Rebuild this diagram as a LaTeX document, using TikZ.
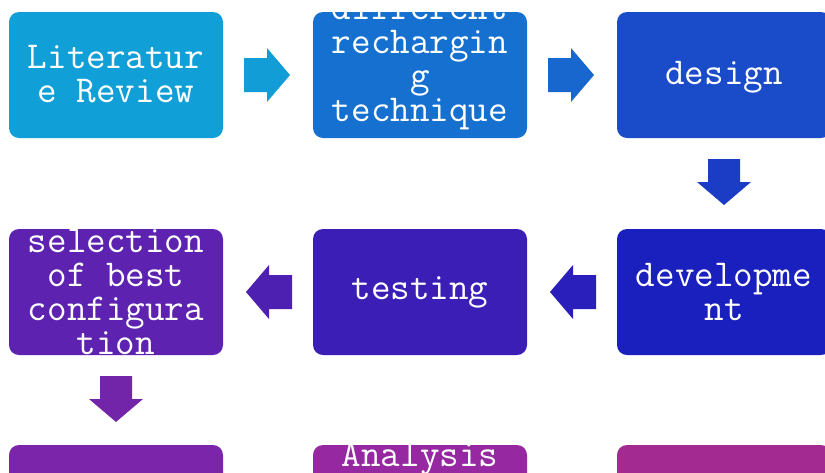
\documentclass[tikz,border=0pt]{standalone}
\definecolor{c1}{HTML}{119FD7}
\definecolor{a1}{HTML}{139DD6}
\definecolor{c2}{HTML}{1570CF}
\definecolor{a2}{HTML}{1767CE}
\definecolor{c3}{HTML}{1A4BC9}
\definecolor{a3}{HTML}{1B3CC4}
\definecolor{c4}{HTML}{1A20BD}
\definecolor{a4}{HTML}{2A1FBA}
\definecolor{c5}{HTML}{3B1EB5}
\definecolor{a5}{HTML}{4E20B2}
\definecolor{c6}{HTML}{5D22B0}
\definecolor{a6}{HTML}{7325AA}
\definecolor{c7}{HTML}{7B25AA}
\definecolor{c8}{HTML}{9628A2}
\definecolor{c9}{HTML}{A22A90}
\begin{document}
\begin{tikzpicture}[x=1pt,y=-1pt,
  box/.style={rounded corners=10pt, minimum width=214pt, minimum height=126pt,
    inner sep=0pt},
  lbl/.style={text=white, inner sep=0pt, align=center,
    font=\ttfamily\fontsize{38}{34}\selectfont}]
\useasboundingbox (0,0) rectangle (825,472);
\begin{scope}
\clip (0,0) rectangle (825,472);
% row 1
\node[box, fill=c1] (lit) at (116,75) {};
\node[box, fill=c2] (rech) at (420,75) {};
\node[box, fill=c3] (des) at (724,75) {};
% row 2
\node[box, fill=c6] (sel) at (116,292) {};
\node[box, fill=c5] (test) at (420,292) {};
\node[box, fill=c4] (dev) at (724,292) {};
% row 3
\node[box, fill=c7] (r31) at (116,508) {};
\node[box, fill=c8] (r32) at (420,508) {};
\node[box, fill=c9] (r33) at (724,508) {};
% texts
\node[lbl] (tlit) at ([yshift=1pt]lit.center) {Literatur\\e Review};
\node[lbl] (trech) at ([yshift=12pt]rech.center) {different\\rechargin\\g\\technique};
\node[lbl] (tdes) at ([yshift=-2pt]des.center) {design};
\node[lbl] (tsel) at (sel.center) {selection\\of best\\configura\\tion};
\node[lbl] (ttest) at (test.center) {testing};
\node[lbl] (tdev) at (dev.center) {developme\\nt};
\node[lbl, anchor=base] (ana) at (420,466) {Analysis};
% arrows
\fill[a1] (244,58) -- (267,58) -- (267,48) -- (290,75) -- (267,102) -- (267,92) -- (244,92) -- cycle;
\fill[a2] (548,58) -- (571,58) -- (571,48) -- (594,75) -- (571,102) -- (571,92) -- (548,92) -- cycle;
\fill[a3] (708,159) -- (740,159) -- (740,182) -- (751,182) -- (724,205) -- (697,182) -- (708,182) -- cycle;
\fill[a4] (596,275) -- (573,275) -- (573,265) -- (550,292) -- (573,319) -- (573,309) -- (596,309) -- cycle;
\fill[a5] (292,275) -- (269,275) -- (269,265) -- (246,292) -- (269,319) -- (269,309) -- (292,309) -- cycle;
\fill[a6] (100,376) -- (132,376) -- (132,399) -- (143,399) -- (116,422) -- (89,399) -- (100,399) -- cycle;
\end{scope}
\end{tikzpicture}
\end{document}
